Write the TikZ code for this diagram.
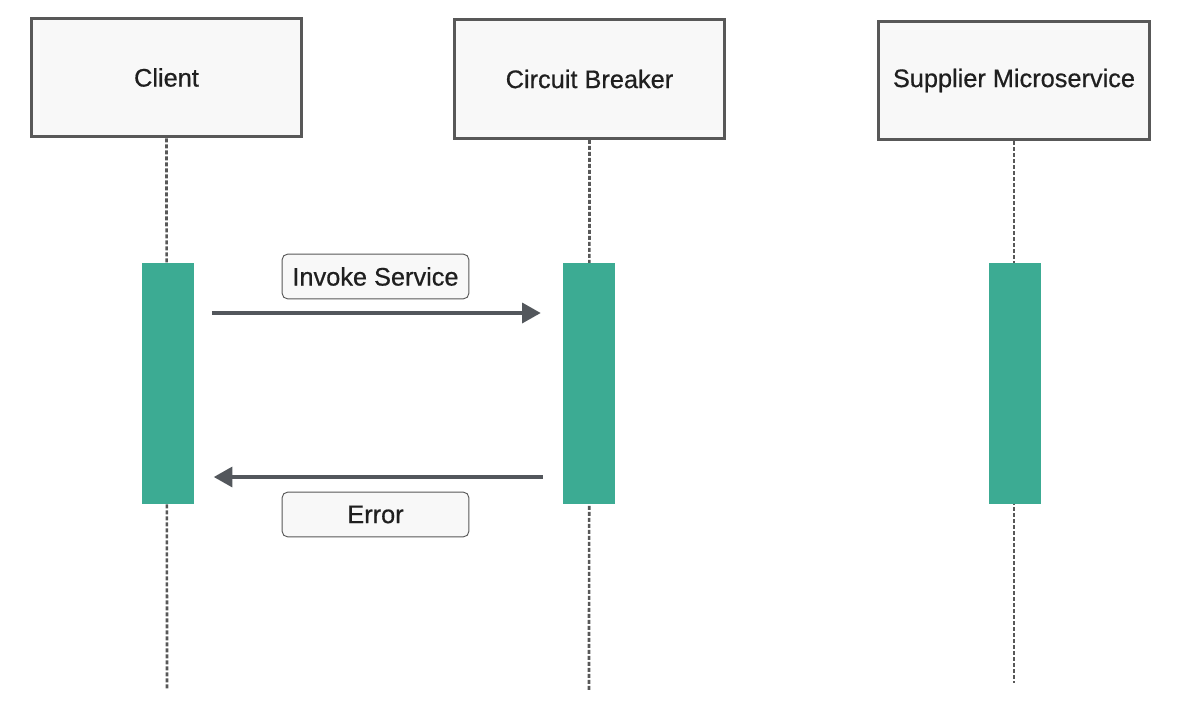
\documentclass[tikz,border=0pt]{standalone}
\usepackage{fontspec}
\setmainfont{Liberation Sans}[FakeBold=0.6]
\usetikzlibrary{arrows.meta}
\definecolor{headfill}{HTML}{F8F8F8}
\definecolor{headline}{HTML}{585858}
\definecolor{barfill}{HTML}{3CAB93}
\definecolor{msgline}{HTML}{53575C}
\begin{document}
\begin{tikzpicture}[
  x=0.75pt, y=-0.75pt,
  every node/.style={font=\fontsize{19}{23}\selectfont, text=black!88},
  head/.style={rectangle, draw=headline, line width=2.2pt, fill=headfill, minimum width=203pt, minimum height=89pt, inner sep=0pt},
  bar/.style={rectangle, fill=barfill, minimum width=39pt, minimum height=181pt, inner sep=0pt},
  tag/.style={rectangle, rounded corners=4pt, draw=headline, line width=0.7pt, fill=headfill, minimum width=140pt, minimum height=33.5pt, inner sep=0pt},
  life/.style={draw=headline, line width=2pt, dash pattern=on 3pt off 1.5pt},
  msg/.style={draw=msgline, line width=2.6pt, -{Triangle[length=14pt, width=15pt]}}
]
\useasboundingbox (0,0) rectangle (1184,721);
% lifeline heads
\node[head] (client) at (166.5,77.5) {Client};
\node[head] (breaker) at (589.5,79) {Circuit Breaker};
\node[head] (supplier) at (1014,80.5) {Supplier Microservice};
% lifelines
\coordinate (clientend) at (167,690);
\coordinate (breakerend) at (589,690);
\coordinate (supplierend) at (1014,683);
\draw[life] (client.south) -- (clientend);
\draw[life] (breaker.south) -- (breakerend);
\draw[life] (supplier.south) -- (supplierend);
% activations
\node[bar] (clientbar) at (167.5,383.5) {};
\node[bar] (breakerbar) at (589,383.5) {};
\node[bar] (supplierbar) at (1015,383.5) {};
% messages
\draw[msg, shorten <=13.5pt, shorten >=16.5pt] (clientbar.east |- 0,313) -- (breakerbar.west |- 0,313);
\draw[msg, shorten <=15pt, shorten >=15pt] (breakerbar.west |- 0,477) -- (clientbar.east |- 0,477);
\node[tag] (invoke) at (375.5,276.5) {Invoke Service};
\node[tag] (error) at (375.5,514.5) {Error};
\end{tikzpicture}
\end{document}
